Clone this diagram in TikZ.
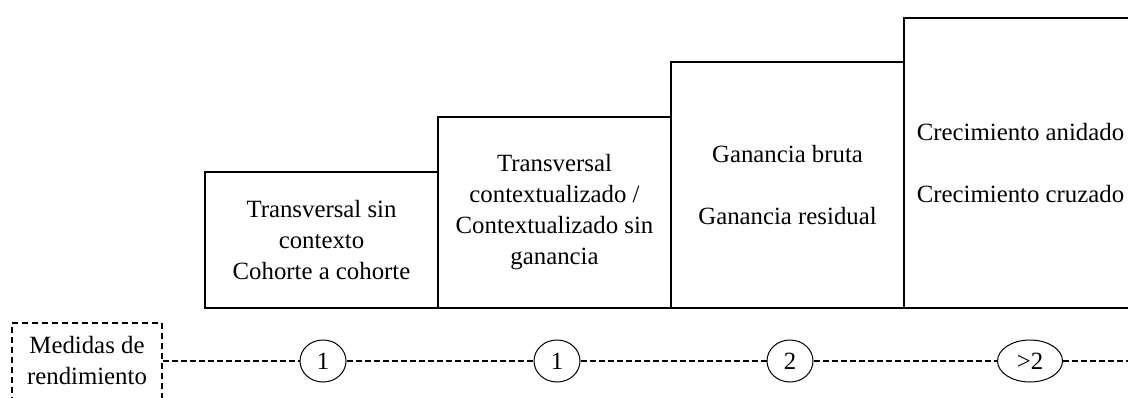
\documentclass[tikz,border=0pt]{standalone}
\usepackage{fontspec}
\setmainfont{Liberation Serif}
\usetikzlibrary{shapes.geometric}
\usetikzlibrary{positioning}

\begin{document}
\begin{tikzpicture}
    [
    x=0.5pt,y=0.5pt,
    font=\fontsize{12.4}{15.5}\selectfont,
    stage/.style={rectangle,draw,line width=1pt,align=center,anchor=south west,inner sep=0pt,outer sep=0pt,minimum width=116.5pt},
    count/.style={ellipse,draw,line width=0.5pt,inner sep=0pt,minimum width=23pt,minimum height=21pt},
    legend/.style={rectangle,draw,line width=0.6pt,dash pattern=on 3pt off 2pt,align=center,inner sep=0pt,minimum width=75pt,minimum height=38pt}
    ]
    \useasboundingbox (0,0) rectangle (1128,397);
    % stages
    \node[stage,minimum height=68pt] (s1) at (205,89) {Transversal sin\\contexto\\Cohorte a cohorte};
    \node[stage,minimum height=95.5pt] (s2) at (s1.south east) {Transversal\\contextualizado /\\Contextualizado sin\\ganancia};
    \node[stage,minimum height=123pt] (s3) at (s2.south east) {Ganancia bruta\\[15.5pt]Ganancia residual};
    \node[stage,minimum height=145pt] (s4) at (s3.south east) {Crecimiento anidado\\[15.5pt]Crecimiento cruzado};
    % measures
    \node[legend] (m) at (87,36) {Medidas de\\rendimiento};
    \node[count] (c1) at (323,36) {1};
    \node[count] (c2) at (557,36) {1};
    \node[count] (c3) at (790,36) {2};
    \node[count,minimum width=32.5pt] (c4) at (1030,36) {>2};
    \coordinate (e) at (1128,36);
    \path[line width=0.6pt,dash pattern=on 3pt off 1.5pt]
        (m) edge (c1)
        (c1) edge (c2)
        (c2) edge (c3)
        (c3) edge (c4)
        (c4) edge (e)
    ;
\end{tikzpicture}
\end{document}
